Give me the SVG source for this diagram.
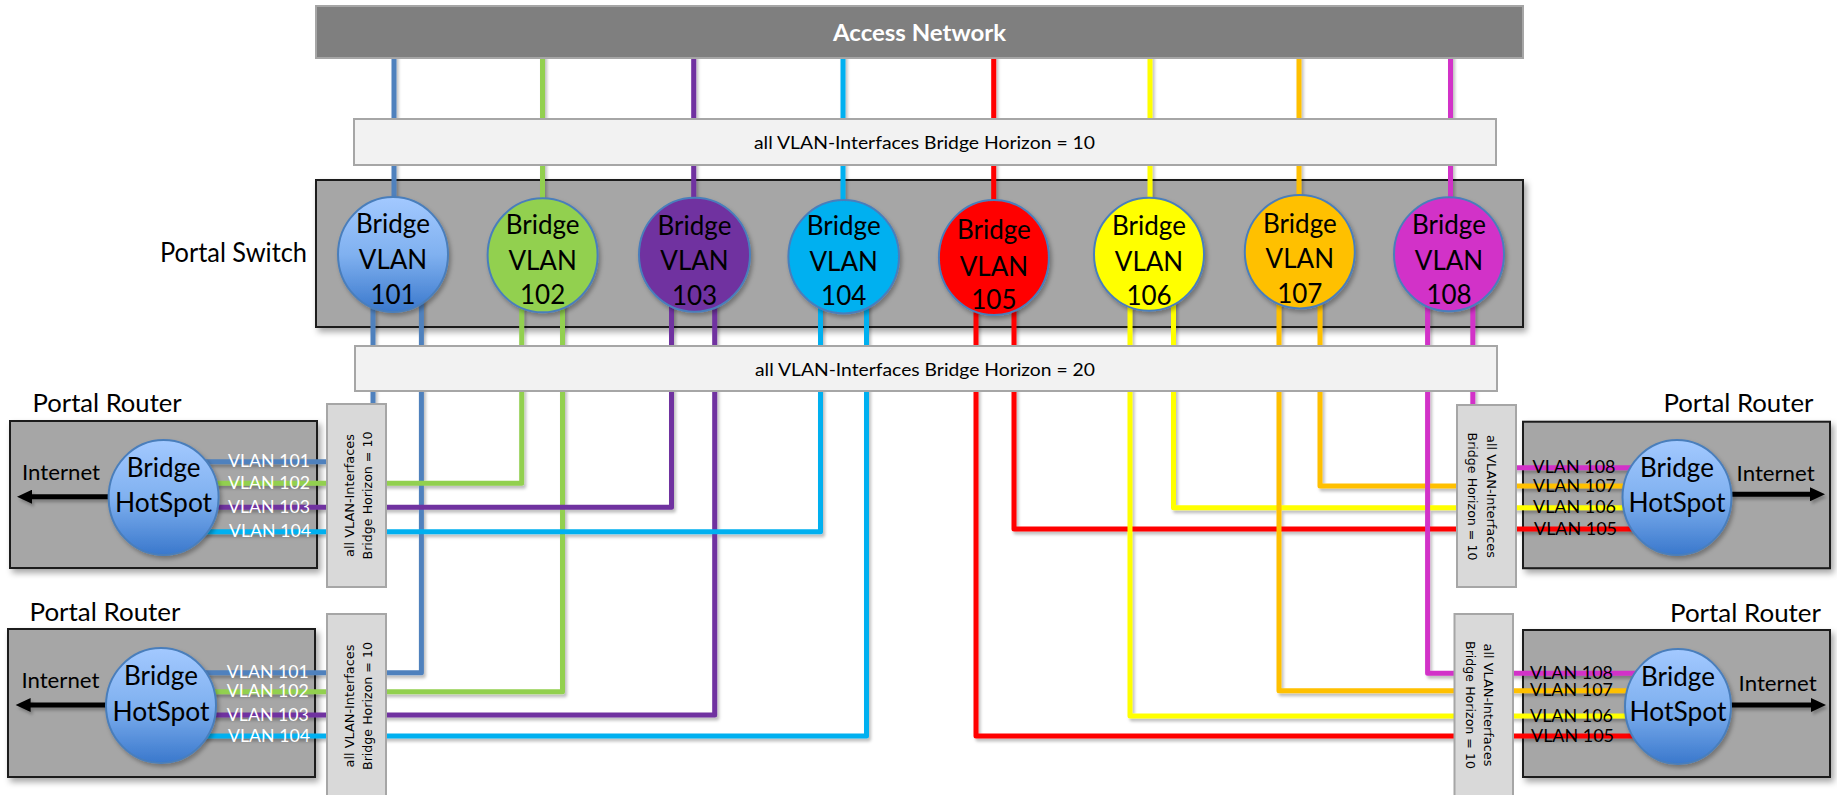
<svg xmlns="http://www.w3.org/2000/svg" width="1837" height="795" viewBox="0 0 1837 795">
<style>
.box{fill:#a6a6a6;stroke:#1a1a1a;stroke-width:2;filter:url(#sh)}
.band{fill:#f2f2f2;stroke:#a6a6a6;stroke-width:2}
.vband{fill:#d9d9d9;stroke:#a6a6a6;stroke-width:2}
.cal{font-family:Lato,"Liberation Sans",sans-serif}
.bt{font-family:Lato,"Liberation Sans",sans-serif;font-size:26px;fill:#000;text-anchor:middle}
.vt{font-family:"DejaVu Sans",Verdana,sans-serif;font-size:12px;fill:#000;text-anchor:middle}
.vl{font-family:Lato,"Liberation Sans",sans-serif;font-size:17px}
.el{stroke:#4a7ebb;stroke-width:2;filter:url(#sh2)}
.c{fill:none;stroke-width:5;stroke-linejoin:round}
.arr{stroke:#000;stroke-width:5;fill:none;marker-end:url(#ah)}
</style>
<defs>
<filter id="sh" x="-10%" y="-10%" width="130%" height="130%"><feDropShadow dx="3" dy="4" stdDeviation="3" flood-color="#000" flood-opacity="0.35"/></filter>
<filter id="sh2" x="-20%" y="-20%" width="150%" height="150%"><feDropShadow dx="2" dy="3" stdDeviation="2" flood-color="#000" flood-opacity="0.3"/></filter>
<filter id="sh3" x="-5%" y="-5%" width="110%" height="110%"><feDropShadow dx="2" dy="3" stdDeviation="1.5" flood-color="#000" flood-opacity="0.25"/></filter>
<linearGradient id="blue" x1="0" y1="0" x2="0" y2="1">
<stop offset="0" stop-color="#a3c9ff"/><stop offset="0.5" stop-color="#80b1f0"/><stop offset="1" stop-color="#3a78cc"/>
</linearGradient>
<marker id="ah" markerUnits="userSpaceOnUse" markerWidth="16" markerHeight="14" refX="2" refY="7" orient="auto">
<path d="M0,0 L15,7 L0,14 z" fill="#000"/>
</marker>
</defs>
<rect width="1837" height="795" fill="#fff"/>

<g id="portal-switch">
<rect class="box" x="316" y="180" width="1207" height="147"/>
<text class="cal" x="160" y="262" font-size="26" textLength="147" lengthAdjust="spacingAndGlyphs">Portal Switch</text>
</g>

<g id="router-lt">
<rect class="box" x="10" y="421" width="307" height="147"/>
<text class="cal" x="32.6" y="411.7" font-size="25" textLength="149" lengthAdjust="spacingAndGlyphs">Portal Router</text>
<text class="cal" x="22" y="480" font-size="21" textLength="78" lengthAdjust="spacingAndGlyphs">Internet</text>
</g>
<g id="router-lb">
<rect class="box" x="8" y="629" width="307" height="148"/>
<text class="cal" x="29.5" y="620.7" font-size="25" textLength="151" lengthAdjust="spacingAndGlyphs">Portal Router</text>
<text class="cal" x="21.4" y="688" font-size="21" textLength="78" lengthAdjust="spacingAndGlyphs">Internet</text>
</g>
<g id="router-rt">
<rect class="box" x="1523" y="421.7" width="307" height="146.5"/>
<text class="cal" x="1663.4" y="412" font-size="25" textLength="150" lengthAdjust="spacingAndGlyphs">Portal Router</text>
<text class="cal" x="1736.6" y="480.7" font-size="21" textLength="78" lengthAdjust="spacingAndGlyphs">Internet</text>
</g>
<g id="router-rb">
<rect class="box" x="1523" y="630" width="307" height="147"/>
<text class="cal" x="1670" y="621.7" font-size="25" textLength="151" lengthAdjust="spacingAndGlyphs">Portal Router</text>
<text class="cal" x="1738.6" y="690.7" font-size="21" textLength="78" lengthAdjust="spacingAndGlyphs">Internet</text>
</g>

<g id="connectors" filter="url(#sh3)">
<path class="c" stroke="#4f81bd" d="M394 30V254"/>
<path class="c" stroke="#92d050" d="M542.5 30V254"/>
<path class="c" stroke="#7030a0" d="M693.7 30V254"/>
<path class="c" stroke="#00b0f0" d="M843 30V254"/>
<path class="c" stroke="#ff0000" d="M993.7 30V254"/>
<path class="c" stroke="#ffff00" d="M1150 30V254"/>
<path class="c" stroke="#ffc000" d="M1299 30V254"/>
<path class="c" stroke="#d232c8" d="M1450.5 30V254"/>

<path class="c" stroke="#4f81bd" d="M373 254V461.7H164"/>
<path class="c" stroke="#4f81bd" d="M421.4 254V672.7H161"/>
<path class="c" stroke="#92d050" d="M521.7 254V483.3H164"/>
<path class="c" stroke="#92d050" d="M562.5 254V691.7H161"/>
<path class="c" stroke="#7030a0" d="M671.5 254V507.3H164"/>
<path class="c" stroke="#7030a0" d="M714.7 254V715H161"/>
<path class="c" stroke="#00b0f0" d="M820.5 254V531.7H164"/>
<path class="c" stroke="#00b0f0" d="M866.5 254V736H161"/>

<path class="c" stroke="#ff0000" d="M976 254V736H1678"/>
<path class="c" stroke="#ff0000" d="M1014 254V529H1677"/>
<path class="c" stroke="#ffff00" d="M1130 254V716H1678"/>
<path class="c" stroke="#ffff00" d="M1173.5 254V507.7H1677"/>
<path class="c" stroke="#ffc000" d="M1279 254V690.7H1678"/>
<path class="c" stroke="#ffc000" d="M1320 254V486H1677"/>
<path class="c" stroke="#d232c8" d="M1427.6 254V673.3H1678"/>
<path class="c" stroke="#d232c8" d="M1472.8 254V467.7H1677"/>

<path class="arr" d="M108 496.7H30"/>
<path class="arr" d="M106 705H28.6"/>
<path class="arr" d="M1731 494.3H1812"/>
<path class="arr" d="M1731 705H1813"/>
</g>

<g id="access-network">
<rect x="316" y="6" width="1207" height="52" fill="#7f7f7f" stroke="#a6a6a6" stroke-width="2"/>
<text class="cal" x="833" y="40.7" font-size="23" font-weight="bold" fill="#fff" textLength="173" lengthAdjust="spacingAndGlyphs">Access Network</text>
</g>

<g id="horizon-10">
<rect class="band" x="354" y="119" width="1142" height="46"/>
<text class="cal" x="754" y="149" font-size="18" textLength="341" lengthAdjust="spacingAndGlyphs">all VLAN-Interfaces Bridge Horizon = 10</text>
</g>
<g id="horizon-20">
<rect class="band" x="355" y="346" width="1142" height="45"/>
<text class="cal" x="755" y="376" font-size="18" textLength="340" lengthAdjust="spacingAndGlyphs">all VLAN-Interfaces Bridge Horizon = 20</text>
</g>

<g id="bridge-101">
<ellipse class="el" cx="393" cy="254.5" rx="55" ry="57.5" fill="url(#blue)"/>
<text class="bt" x="393" y="233">Bridge</text><text class="bt" x="393" y="269">VLAN</text><text class="bt" x="393" y="303.5">101</text>
</g>
<g id="bridge-102">
<ellipse class="el" cx="542.6" cy="255.3" rx="55" ry="57" fill="#92d050"/>
<text class="bt" x="542.6" y="234">Bridge</text><text class="bt" x="542.6" y="270">VLAN</text><text class="bt" x="542.6" y="304">102</text>
</g>
<g id="bridge-103">
<ellipse class="el" cx="694.5" cy="254.7" rx="55.5" ry="57" fill="#7030a0"/>
<text class="bt" x="694.5" y="234.5">Bridge</text><text class="bt" x="694.5" y="270">VLAN</text><text class="bt" x="694.5" y="305">103</text>
</g>
<g id="bridge-104">
<ellipse class="el" cx="843.7" cy="256.7" rx="55.3" ry="56.7" fill="#00b0f0"/>
<text class="bt" x="843.7" y="235">Bridge</text><text class="bt" x="843.7" y="270.7">VLAN</text><text class="bt" x="843.7" y="305">104</text>
</g>
<g id="bridge-105">
<ellipse class="el" cx="993.9" cy="257.5" rx="55" ry="57.5" fill="#ff0000"/>
<text class="bt" x="993.9" y="239.3">Bridge</text><text class="bt" x="993.9" y="276">VLAN</text><text class="bt" x="993.9" y="309">105</text>
</g>
<g id="bridge-106">
<ellipse class="el" cx="1149" cy="254.2" rx="55" ry="56.5" fill="#ffff00"/>
<text class="bt" x="1149" y="235">Bridge</text><text class="bt" x="1149" y="270.5">VLAN</text><text class="bt" x="1149" y="305">106</text>
</g>
<g id="bridge-107">
<ellipse class="el" cx="1299.8" cy="251.7" rx="55" ry="56.7" fill="#ffc000"/>
<text class="bt" x="1299.8" y="232.7">Bridge</text><text class="bt" x="1299.8" y="268.3">VLAN</text><text class="bt" x="1299.8" y="302.7">107</text>
</g>
<g id="bridge-108">
<ellipse class="el" cx="1449" cy="254.2" rx="55" ry="57" fill="#d232c8"/>
<text class="bt" x="1449" y="234">Bridge</text><text class="bt" x="1449" y="269.5">VLAN</text><text class="bt" x="1449" y="304">108</text>
</g>

<g id="hotspot-lt">
<ellipse class="el" cx="163.6" cy="497.5" rx="55" ry="57.5" fill="url(#blue)"/>
<text class="bt" x="163.6" y="476.7">Bridge</text><text class="bt" x="163.6" y="511.7" textLength="97" lengthAdjust="spacingAndGlyphs">HotSpot</text>
<text class="vl" x="228" y="467.2" fill="#fff" textLength="82" lengthAdjust="spacingAndGlyphs">VLAN 101</text>
<text class="vl" x="228" y="488.8" fill="#fff" textLength="82" lengthAdjust="spacingAndGlyphs">VLAN 102</text>
<text class="vl" x="228" y="512.8" fill="#fff" textLength="82" lengthAdjust="spacingAndGlyphs">VLAN 103</text>
<text class="vl" x="229" y="537.2" fill="#fff" textLength="82" lengthAdjust="spacingAndGlyphs">VLAN 104</text>
</g>
<g id="hotspot-lb">
<ellipse class="el" cx="161" cy="705.5" rx="55" ry="57.5" fill="url(#blue)"/>
<text class="bt" x="161" y="684.5">Bridge</text><text class="bt" x="161" y="720.7" textLength="97" lengthAdjust="spacingAndGlyphs">HotSpot</text>
<text class="vl" x="226.8" y="678.2" fill="#fff" textLength="82" lengthAdjust="spacingAndGlyphs">VLAN 101</text>
<text class="vl" x="226.8" y="697.2" fill="#fff" textLength="82" lengthAdjust="spacingAndGlyphs">VLAN 102</text>
<text class="vl" x="226.8" y="720.5" fill="#fff" textLength="82" lengthAdjust="spacingAndGlyphs">VLAN 103</text>
<text class="vl" x="228" y="741.5" fill="#fff" textLength="82" lengthAdjust="spacingAndGlyphs">VLAN 104</text>
</g>
<g id="hotspot-rt">
<ellipse class="el" cx="1677" cy="497.5" rx="54.5" ry="57.5" fill="url(#blue)"/>
<text class="bt" x="1677" y="476.7">Bridge</text><text class="bt" x="1677" y="511.7" textLength="97" lengthAdjust="spacingAndGlyphs">HotSpot</text>
<text class="vl" x="1532.5" y="473.2" fill="#000" textLength="83" lengthAdjust="spacingAndGlyphs">VLAN 108</text>
<text class="vl" x="1533" y="491.5" fill="#000" textLength="83" lengthAdjust="spacingAndGlyphs">VLAN 107</text>
<text class="vl" x="1533" y="513.2" fill="#000" textLength="83" lengthAdjust="spacingAndGlyphs">VLAN 106</text>
<text class="vl" x="1534" y="534.5" fill="#000" textLength="83" lengthAdjust="spacingAndGlyphs">VLAN 105</text>
</g>
<g id="hotspot-rb">
<ellipse class="el" cx="1678" cy="706.5" rx="53" ry="57.5" fill="url(#blue)"/>
<text class="bt" x="1678" y="685.5">Bridge</text><text class="bt" x="1678" y="721" textLength="97" lengthAdjust="spacingAndGlyphs">HotSpot</text>
<text class="vl" x="1530" y="678.8" fill="#000" textLength="83" lengthAdjust="spacingAndGlyphs">VLAN 108</text>
<text class="vl" x="1530" y="696.2" fill="#000" textLength="83" lengthAdjust="spacingAndGlyphs">VLAN 107</text>
<text class="vl" x="1530" y="721.5" fill="#000" textLength="83" lengthAdjust="spacingAndGlyphs">VLAN 106</text>
<text class="vl" x="1531" y="741.5" fill="#000" textLength="83" lengthAdjust="spacingAndGlyphs">VLAN 105</text>
</g>

<g id="horizon-lt">
<rect class="vband" x="327" y="404" width="59" height="183"/>
<text class="vt" transform="translate(353.5,495.5) rotate(-90)" textLength="123" lengthAdjust="spacingAndGlyphs">all VLAN-Interfaces</text>
<text class="vt" transform="translate(371.5,495.5) rotate(-90)" textLength="128" lengthAdjust="spacingAndGlyphs">Bridge Horizon = 10</text>
</g>
<g id="horizon-lb">
<rect class="vband" x="327" y="614" width="59" height="190"/>
<text class="vt" transform="translate(353.5,706) rotate(-90)" textLength="123" lengthAdjust="spacingAndGlyphs">all VLAN-Interfaces</text>
<text class="vt" transform="translate(371.5,706) rotate(-90)" textLength="128" lengthAdjust="spacingAndGlyphs">Bridge Horizon = 10</text>
</g>
<g id="horizon-rt">
<rect class="vband" x="1457" y="405" width="59" height="182"/>
<text class="vt" transform="translate(1486.7,496.5) rotate(90)" textLength="123" lengthAdjust="spacingAndGlyphs">all VLAN-Interfaces</text>
<text class="vt" transform="translate(1468.3,496.5) rotate(90)" textLength="128" lengthAdjust="spacingAndGlyphs">Bridge Horizon = 10</text>
</g>
<g id="horizon-rb">
<rect class="vband" x="1454.5" y="614" width="58.5" height="190"/>
<text class="vt" transform="translate(1484.2,705) rotate(90)" textLength="123" lengthAdjust="spacingAndGlyphs">all VLAN-Interfaces</text>
<text class="vt" transform="translate(1465.8,705) rotate(90)" textLength="128" lengthAdjust="spacingAndGlyphs">Bridge Horizon = 10</text>
</g>
</svg>
